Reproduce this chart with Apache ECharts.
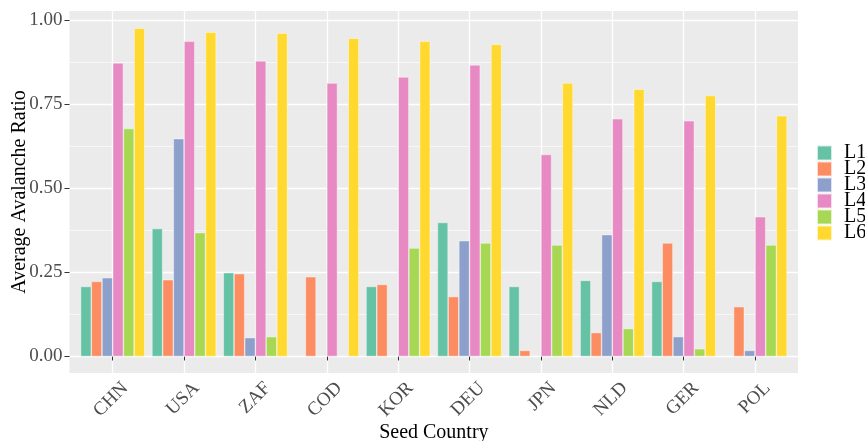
<!DOCTYPE html>
<html>
<head>
<meta charset="utf-8">
<script src="https://cdn.jsdelivr.net/npm/echarts@6/dist/echarts.min.js"></script>
<style>
  html, body { margin: 0; padding: 0; background: #fff; }
  #main { width: 865px; height: 441px; }
</style>
</head>
<body>
<div id="main"></div>
<script>
// data
var countries = ['CHN', 'USA', 'ZAF', 'COD', 'KOR', 'DEU', 'JPN', 'NLD', 'GER', 'POL'];
var levels = ['L1', 'L2', 'L3', 'L4', 'L5', 'L6'];
var L1 = [0.208, 0.380, 0.249, null, 0.208, 0.398, 0.208, 0.226, 0.223, null];
var L2 = [0.223, 0.228, 0.246, 0.237, 0.214, 0.178, 0.018, 0.071, 0.337, 0.148];
var L3 = [0.234, 0.647, 0.056, null, null, 0.344, null, 0.362, 0.059, 0.018];
var L4 = [0.872, 0.936, 0.878, 0.812, 0.830, 0.866, 0.600, 0.706, 0.700, 0.415];
var L5 = [0.677, 0.368, 0.059, null, 0.322, 0.337, 0.331, 0.083, 0.023, 0.331];
var L6 = [0.975, 0.963, 0.960, 0.945, 0.936, 0.927, 0.812, 0.794, 0.775, 0.715];
var majorTicks = [0, 0.25, 0.5, 0.75, 1];
var minorTicks = [0.125, 0.375, 0.625, 0.875];

var colors = ['#66C2A5', '#FC8D62', '#8DA0CB', '#E78AC3', '#A6D854', '#FFD92F'];
var serif = 'Liberation Serif';
var yMin = -0.049, yMax = 1.026;

var allData = [L1, L2, L3, L4, L5, L6];
var series = levels.map(function (name, i) {
    return {
        name: name,
        type: 'bar',
        xAxisIndex: 1,
        yAxisIndex: 2,
        data: allData[i],
        barGap: 0,
        barCategoryGap: '10%',
        itemStyle: { color: colors[i], borderColor: 'rgba(255,255,255,0.7)', borderWidth: 0.6 }
    };
});

var myChart = echarts.init(document.getElementById('main'));
myChart.setOption({
    animation: false,
    color: colors,
    textStyle: { fontFamily: serif },
    grid: [
        // panel
        { left: 69.5, right: 67, top: 11, bottom: 68, show: true, backgroundColor: '#EBEBEB', borderWidth: 0, outerBoundsMode: 'none', containLabel: false },
        // bars
        { left: 77, right: 74.3, top: 11, bottom: 68, outerBoundsMode: 'none', containLabel: false }
    ],
    legend: {
        orient: 'vertical',
        left: 816,
        top: 143,
        padding: 0,
        itemWidth: 15,
        itemHeight: 15,
        itemGap: -4,
        icon: 'rect',
        data: levels,
        textStyle: { fontFamily: serif, fontSize: 20, color: '#000', padding: [0, 0, 0, 7] }
    },
    xAxis: [
        { gridIndex: 0, type: 'value', min: 0, max: 1, show: false },
        {
            gridIndex: 1,
            type: 'category',
            data: countries,
            name: 'Seed Country',
            nameLocation: 'middle',
            nameGap: 50,
            nameMoveOverlap: false,
            nameTextStyle: { fontFamily: serif, fontSize: 20, color: '#000' },
            axisLine: { show: false },
            axisTick: { show: true, alignWithLabel: true, length: 4, lineStyle: { color: '#333' } },
            splitLine: { show: true, alignWithLabel: true, lineStyle: { color: '#fff', width: 1.3 } },
            axisLabel: { rotate: 45, margin: 0, verticalAlign: 'top', lineHeight: 35, fontFamily: serif, fontSize: 19, color: '#4D4D4D' }
        }
    ],
    yAxis: [
        {
            gridIndex: 0,
            type: 'value',
            min: yMin,
            max: yMax,
            name: 'Average Avalanche Ratio',
            nameLocation: 'middle',
            nameGap: 40,
            nameMoveOverlap: false,
            nameTextStyle: { fontFamily: serif, fontSize: 20, color: '#000' },
            axisLine: { show: false },
            axisTick: { show: true, length: 5, customValues: majorTicks, lineStyle: { color: '#333' } },
            axisLabel: {
                customValues: majorTicks,
                margin: 7,
                fontFamily: serif,
                fontSize: 19,
                color: '#4D4D4D',
                formatter: function (v) { return v.toFixed(2); }
            },
            splitLine: { show: true, lineStyle: { color: '#fff', width: 1.3 } }
        },
        {
            gridIndex: 0,
            type: 'value',
            min: yMin,
            max: yMax,
            axisLine: { show: false },
            axisTick: { show: false, customValues: minorTicks },
            axisLabel: { show: false, customValues: minorTicks },
            splitLine: { show: true, lineStyle: { color: '#fff', width: 0.6 } }
        },
        { gridIndex: 1, type: 'value', min: yMin, max: yMax, show: false }
    ],
    series: series
});
</script>
</body>
</html>
